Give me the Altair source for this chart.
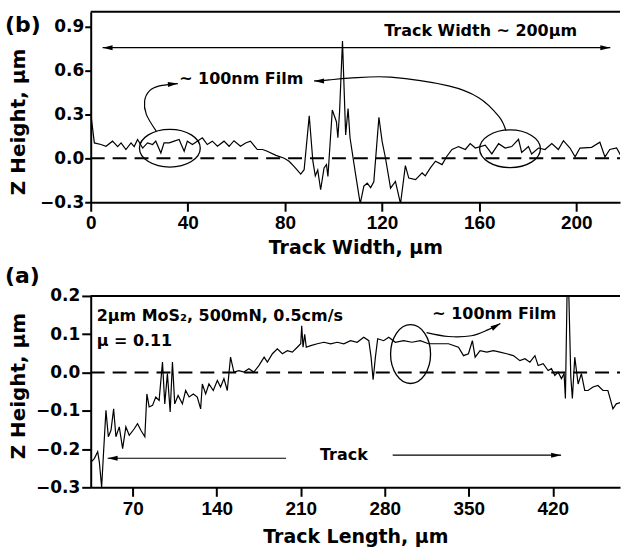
import altair as alt
import pandas as pd

# ---------------- data ----------------
# panel (b): profile across the track width
b_width = [0.0, 1.5, 4.2, 6.3, 9.0, 11.1, 12.5, 14.5, 16.6, 17.9, 19.3, 21.4, 23.4, 25.5,
           26.8, 28.9, 30.2, 32.3, 34.4, 36.4, 38.5, 39.8, 41.9, 43.9, 46.0, 48.0, 50.1,
           52.2, 54.9, 57.0, 59.0, 61.7, 63.8, 65.8, 68.6, 70.8, 72.7, 76.3, 79.7, 81.7,
           84.0, 86.5, 87.9, 90.0, 91.5, 92.5, 93.5, 94.7, 96.1, 97.1, 97.7, 99.5, 101.2,
           101.8, 102.5, 103.7, 105.0, 106.0, 106.8, 109.0, 111.0, 112.5, 113.9, 115.3,
           116.6, 118.7, 120.0, 121.4, 123.5, 125.5, 127.6, 129.6, 131.0, 133.8, 136.5,
           137.8, 139.9, 142.0, 144.7, 146.7, 148.8, 151.5, 154.3, 156.3, 158.4, 162.5,
           165.2, 168.0, 170.7, 173.4, 176.2, 177.5, 180.3, 181.6, 184.4, 187.1, 189.9,
           192.6, 194.7, 197.4, 199.5, 201.5, 206.3, 209.7, 211.8, 213.8, 216.6, 218.9]
b_height = [0.31, 0.105, 0.094, 0.082, 0.117, 0.08, 0.105, 0.06, 0.105, 0.08, 0.128, 0.07,
            0.105, 0.094, 0.117, 0.036, 0.105, 0.105, 0.117, 0.128, 0.048, 0.117, 0.094,
            0.117, 0.14, 0.094, 0.117, 0.082, 0.117, 0.082, 0.12, 0.082, 0.105, 0.117, 0.06,
            0.06, 0.048, 0.02, 0.0, -0.02, -0.06, -0.108, -0.078, 0.29, -0.02, -0.12, -0.08,
            -0.215, -0.066, -0.043, -0.124, 0.33, 0.25, 0.14, 0.32, 0.80, 0.16, 0.34, 0.14,
            -0.1, -0.31, -0.19, -0.17, -0.20, -0.16, 0.28, 0.117, 0.002, -0.204, -0.158,
            -0.31, -0.05, -0.135, -0.146, -0.10, -0.12, -0.066, -0.02, -0.043, 0.014, 0.06,
            0.08, 0.06, 0.10, 0.07, 0.09, 0.03, 0.10, 0.07, 0.08, 0.13, 0.04, 0.08, 0.03,
            0.07, 0.06, 0.10, 0.06, 0.12, 0.07, 0.01, 0.07, 0.075, 0.11, 0.01, 0.06, 0.07, 0.0]

# panel (a): profile along the track length
a_length = [35.3, 38.0, 40.8, 42.2, 44.1, 45.8, 47.7, 49.7, 51.9, 54.1, 56.0, 58.8, 61.6,
            64.3, 67.1, 71.3, 74.0, 76.8, 80.1, 81.8, 83.7, 86.5, 89.2, 92.0, 94.8, 96.7,
            98.9, 101.2, 103.1, 105.0, 107.8, 111.4, 114.1, 117.0, 120.5, 123.8, 126.6,
            128.0, 130.8, 133.5, 137.1, 140.5, 143.2, 146.0, 148.8, 151.5, 154.3, 158.5,
            162.6, 166.8, 170.9, 175.1, 179.5, 182.2, 186.4, 190.5, 194.7, 198.8, 203.0,
            207.1, 210.0, 210.8, 211.9, 213.3, 214.6, 218.3, 223.8, 229.3, 234.9, 240.4,
            245.9, 251.5, 257.0, 262.5, 266.7, 268.6, 270.3, 272.2, 274.1, 279.1, 283.3,
            288.8, 295.7, 302.6, 309.6, 316.5, 323.4, 328.9, 333.1, 341.4, 345.6, 349.7,
            353.0, 355.3, 359.4, 365.0, 370.5, 376.0, 381.6, 387.1, 392.6, 396.8, 400.9,
            405.1, 407.8, 412.0, 416.1, 418.9, 421.7, 424.4, 427.2, 429.4, 430.5, 431.9,
            433.3, 435.0, 436.3, 438.3, 441.1, 443.8, 446.6, 449.3, 453.5, 457.6, 461.8,
            465.9, 468.2, 470.1, 472.9, 477.6]
a_height = [-0.234, -0.225, -0.207, -0.234, -0.30, -0.203, -0.099, -0.168, -0.151, -0.095,
            -0.168, -0.142, -0.199, -0.142, -0.164, -0.147, -0.134, -0.151, -0.168, -0.056,
            -0.09, -0.086, -0.064, -0.073, 0.027, -0.082, -0.003, -0.103, 0.027, -0.082,
            -0.06, -0.082, -0.047, -0.064, -0.056, -0.064, -0.095, -0.03, -0.056, -0.03,
            -0.047, -0.021, -0.038, -0.016, -0.047, 0.04, 0.001, 0.005, 0.001, 0.01, 0.001,
            0.018, 0.04, 0.027, 0.049, 0.062, 0.049, 0.057, 0.053, 0.066, 0.075, 0.122,
            0.066, 0.10, 0.066, 0.07, 0.075, 0.079, 0.075, 0.079, 0.075, 0.083, 0.079,
            0.092, 0.083, 0.04, -0.019, 0.04, 0.088, 0.083, 0.092, 0.079, 0.083, 0.079,
            0.083, 0.075, 0.075, 0.075, 0.075, 0.066, 0.044, 0.049, 0.083, 0.04, 0.057,
            0.053, 0.057, 0.053, 0.049, 0.044, 0.031, 0.036, 0.027, 0.044, 0.018, 0.023,
            0.005, 0.01, -0.008, 0.001, -0.016, -0.003, -0.068, 0.21, 0.21, -0.012, -0.068,
            0.04, -0.03, -0.003, -0.047, -0.047, -0.038, -0.034, -0.047, -0.047, -0.073,
            -0.095, -0.082, -0.077]

# axes
b_xdomain = [0, 218]
b_ydomain = [-0.3, 1.0]
b_xticks = [0, 40, 80, 120, 160, 200]
b_yticks = [-0.3, 0.0, 0.3, 0.6, 0.9]
a_xdomain = [35, 476]
a_ydomain = [-0.3, 0.2]
a_xticks = [70, 140, 210, 280, 350, 420]
a_yticks = [-0.3, -0.2, -0.1, 0.0, 0.1, 0.2]

# annotations (data coordinates)
b_texts = ["Track Width ~ 200µm", "~ 100nm Film"]
b_text_x = [160.6, 62.0]
b_text_y = [0.872, 0.542]
b_ell_x = [32.6, 172.7]
b_ell_y = [0.069, 0.065]
b_line_g = ["dbl", "dbl"] + ["cl"] * 6 + ["cr"] * 9
b_line_x = [4.9, 214.0,
            27.0, 22.9, 22.2, 24.2, 28.3, 35.9,
            171.0, 168.0, 159.8, 147.4, 123.5, 106.4, 98.2, 95.0, 92.0]
b_line_y = [0.755, 0.755,
            0.185, 0.30, 0.391, 0.46, 0.494, 0.51,
            0.19, 0.288, 0.414, 0.494, 0.554, 0.547, 0.535, 0.53, 0.528]
b_head_x = [4.9, 214.0, 35.9, 92.0]
b_head_y = [0.755, 0.755, 0.51, 0.528]
b_head_a = [180, 0, 355, 180]

a_texts = ["~ 100nm Film", "Track"]
a_text_x = [371.3, 245.9]
a_text_y = [0.154, -0.216]
a_left_texts = ["2µm MoS\u2082, 500mN, 0.5cm/s", "µ = 0.11"]
a_left_x = [40.0, 40.0]
a_left_y = [0.148, 0.081]
a_ell_x = [301.5]
a_ell_y = [0.048]
a_line_g = ["al", "al", "ar", "ar"] + ["ac"] * 5
a_line_x = [197.75, 49.1, 286.6, 426.9, 314.8, 333.1, 352.2, 366.3, 376.3]
a_line_y = [-0.224, -0.224, -0.216, -0.216, 0.104, 0.094, 0.096, 0.112, 0.128]
a_head_x = [49.1, 426.9, 376.3]
a_head_y = [-0.224, -0.216, 0.128]
a_head_a = [180, 0, 330]

# ---------------- chart ----------------
W = 531
FONT = "DejaVu Sans"
TICKFONT = "Liberation Sans"
ELL_B = ("M -1 0 A 1 0.62 0 0 1 0 -0.62 A 1 0.62 0 0 1 1 0 "
         "A 1 0.62 0 0 1 0 0.62 A 1 0.62 0 0 1 -1 0 Z")
ELL_A = ("M -0.68 0 A 0.68 1 0 0 1 0 -1 A 0.68 1 0 0 1 0.68 0 "
         "A 0.68 1 0 0 1 0 1 A 0.68 1 0 0 1 -0.68 0 Z")
ARROW = "M 0 0 L -2 -0.5 L -2 0.5 Z"


def x_axis(values, title, tick, pad, title_y):
    return alt.Axis(values=values, title=title, grid=False, domainColor="black",
                    domainWidth=2, tickColor="black", tickWidth=2, tickSize=tick,
                    labelFont=TICKFONT, labelFontSize=19, labelFontWeight="bold",
                    labelColor="black", labelPadding=pad, labelFlush=False,
                    titleFont=FONT, titleFontSize=19, titleFontWeight="bold",
                    titleColor="black", titleY=title_y, titleBaseline="top")


def y_axis(values, tick, pad, title_y):
    return alt.Axis(values=values, format=".1f", title="Z Height, µm", grid=False,
                    domainColor="black", domainWidth=2, tickColor="black", tickWidth=2,
                    tickSize=tick, labelFont=FONT, labelFontSize=17, labelFontWeight="bold",
                    labelColor="black", labelPadding=pad, titleFont=FONT, titleFontSize=20,
                    titleFontWeight="bold", titleColor="black", titleX=-66, titleY=title_y,
                    titleBaseline="alphabetic")


def panel(label, h, xdom, ydom, xax, yax, trace, zero, texts, left_texts, ells, ell_shape,
          ell_size, lines, heads):
    X = alt.X("x:Q", scale=alt.Scale(domain=xdom, nice=False, zero=False), axis=xax)
    Y = alt.Y("y:Q", scale=alt.Scale(domain=ydom, nice=False, zero=False), axis=yax)
    layers = [
        alt.Chart(trace).mark_line(color="black", strokeWidth=1.2, clip=True).encode(x=X, y=Y),
        alt.Chart(zero).mark_line(color="black", strokeWidth=2, strokeDash=[14, 8]).encode(x=X, y=Y),
        alt.Chart(pd.DataFrame({"k": [0]})).mark_rule(color="black", strokeWidth=2).encode(
            x=alt.value(0), x2=alt.value(W), y=alt.value(0)),
        alt.Chart(lines).mark_line(color="black", strokeWidth=1.2, interpolate="cardinal").encode(
            x=X, y=Y, detail="g:N", order="i:Q"),
        alt.Chart(heads).mark_point(shape=ARROW, size=100, filled=True, color="black",
                                    opacity=1, strokeWidth=0).encode(
            x=X, y=Y, angle=alt.Angle("ang:Q", scale=None)),
        alt.Chart(ells).mark_point(shape=ell_shape, size=ell_size, filled=False, color="black",
                                   opacity=1, strokeWidth=1.3).encode(x=X, y=Y),
        alt.Chart(texts).mark_text(font=FONT, fontSize=16, fontWeight="bold", color="black",
                                   align="center", baseline="middle").encode(x=X, y=Y, text="t:N"),
        alt.Chart(pd.DataFrame({"k": [0]})).mark_text(
            font=FONT, fontSize=22, fontWeight="bold", color="black", align="left",
            baseline="middle").encode(x=alt.value(-86), y=alt.value(13 if label == "(b)" else -20),
                                      text=alt.value(label)),
    ]
    if left_texts is not None:
        layers.append(alt.Chart(left_texts).mark_text(
            font=FONT, fontSize=16, fontWeight="bold", color="black", align="left",
            baseline="middle").encode(x=X, y=Y, text="t:N"))
    return alt.layer(*layers).properties(width=W, height=h)


b_chart = panel(
    "(b)", 191, b_xdomain, b_ydomain,
    x_axis(b_xticks, "Track Width, µm", 9, 2, 36),
    y_axis(b_yticks, 6, 1, 110),
    pd.DataFrame({"x": b_width, "y": b_height}),
    pd.DataFrame({"x": b_xdomain, "y": [0, 0]}),
    pd.DataFrame({"t": b_texts, "x": b_text_x, "y": b_text_y}),
    None,
    pd.DataFrame({"x": b_ell_x, "y": b_ell_y}), ELL_B, 3721,
    pd.DataFrame({"g": b_line_g, "i": list(range(len(b_line_x))), "x": b_line_x, "y": b_line_y}),
    pd.DataFrame({"x": b_head_x, "y": b_head_y, "ang": b_head_a}),
)

a_chart = panel(
    "(a)", 192, a_xdomain, a_ydomain,
    x_axis(a_xticks, "Track Length, µm", 9, 3, 40),
    y_axis(a_yticks, 9, 2, 90),
    pd.DataFrame({"x": a_length, "y": a_height}),
    pd.DataFrame({"x": a_xdomain, "y": [0, 0]}),
    pd.DataFrame({"t": a_texts, "x": a_text_x, "y": a_text_y}),
    pd.DataFrame({"t": a_left_texts, "x": a_left_x, "y": a_left_y}),
    pd.DataFrame({"x": a_ell_x, "y": a_ell_y}), ELL_A, 3481,
    pd.DataFrame({"g": a_line_g, "i": list(range(len(a_line_x))), "x": a_line_x, "y": a_line_y}),
    pd.DataFrame({"x": a_head_x, "y": a_head_y, "ang": a_head_a}),
)

chart = alt.vconcat(b_chart, a_chart, spacing=8).properties(
    padding={"left": 5, "top": 10, "right": 0, "bottom": 0},
    background="white",
).configure_view(stroke=None)

chart.save("out.html", embed_options={"renderer": "svg", "actions": False})
